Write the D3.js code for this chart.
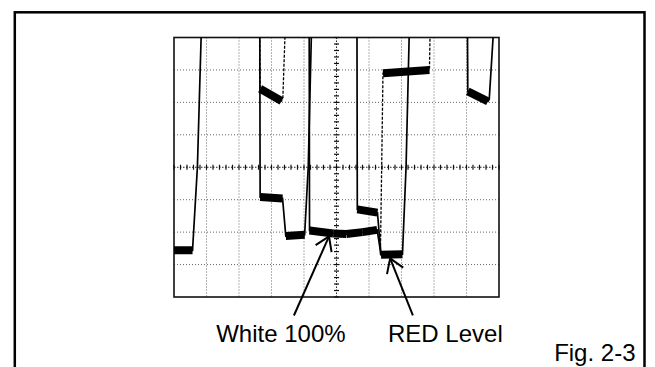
<!DOCTYPE html>
<html>
<head>
<meta charset="utf-8">
<script src="https://cdn.jsdelivr.net/npm/d3@7/dist/d3.min.js"></script>
<style>
  html, body { margin: 0; padding: 0; background: #fff; }
  svg { display: block; }
</style>
</head>
<body>
<svg id="chart" width="655" height="367"></svg>
<script>
// graticule: 10 x 8 divisions, y measured from the centre line
const xDivs = [0, 1, 2, 3, 4, 5, 6, 7, 8, 9, 10];
const yDivs = [-4, -3, -2, -1, 0, 1, 2, 3, 4];

// traces, [x div, y div]
const traceA = [[0, -2.56], [0.57, -2.56], [0.72, 0], [0.84, 4.2]];
const traceB = [[2.64, 4.2], [2.65, -0.92], [3.34, -0.96], [3.44, -2.12], [4.02, -2.08], [4.13, 0], [4.23, 4.2]];
const traceBUpper = [[2.64, 4.2], [2.65, 2.42], [3.31, 2.04], [3.35, 2.16], [3.42, 4.2]];
const traceC = [[4.16, 4.2], [4.17, -1.95], [4.9, -2.04], [5.3, -2.06], [5.8, -2.0], [6.25, -1.93], [6.37, -2.7], [7.03, -2.68], [7.14, 0], [7.24, 4.2]];
const traceD = [[5.63, 4.2], [5.64, -1.3], [6.26, -1.4], [6.37, -2.7]];
const traceE = [[6.35, -2.7], [6.39, 0], [6.43, 2.9], [7.86, 3.0], [7.88, 4.2]];
const traceF = [[9.03, 4.2], [9.04, 2.34], [9.66, 2.03], [9.7, 2.1], [9.83, 4.2]];

// annotations
const arrowLabels = ['White 100%', 'RED Level'];
const arrowTips = [[4.77, -2.13], [6.65, -2.81]];
const arrowTails = [[3.69, -4.57], [7.35, -4.57]];
const labelX = [3.29, 8.35];
const labelY = -5.39;
const figLabel = 'Fig. 2-3';

const svg = d3.select('#chart');
const font = '"Liberation Sans", Arial, sans-serif';

// outer box
svg.append('rect')
  .attr('x', 14.8).attr('y', 12.3)
  .attr('width', 629.7).attr('height', 370)
  .attr('fill', 'none')
  .attr('stroke', '#000')
  .attr('stroke-width', 2.5);

const x = d3.scaleLinear().domain([0, 10]).range([174, 499]);
const y = d3.scaleLinear().domain([-4, 4]).range([297, 37.5]);

const g = svg.append('g');

// dotted grid
g.selectAll('line.vgrid')
  .data(xDivs.filter((d) => d !== 0 && d !== 10 && d !== 5))
  .enter().append('line')
  .attr('x1', (d) => x(d)).attr('x2', (d) => x(d))
  .attr('y1', y(4)).attr('y2', y(-4))
  .attr('stroke', '#666')
  .attr('stroke-dasharray', '1,2');

g.selectAll('line.hgrid')
  .data(yDivs.filter((d) => d !== 4 && d !== -4 && d !== 0))
  .enter().append('line')
  .attr('x1', x(0)).attr('x2', x(10))
  .attr('y1', (d) => y(d)).attr('y2', (d) => y(d))
  .attr('stroke', '#666')
  .attr('stroke-dasharray', '1,2');

// centre lines with minor ticks every 1/5 div
g.append('line')
  .attr('x1', x(5)).attr('x2', x(5)).attr('y1', y(4)).attr('y2', y(-4))
  .attr('stroke', '#222').attr('stroke-dasharray', '1.5,1.5');
g.append('line')
  .attr('x1', x(0)).attr('x2', x(10)).attr('y1', y(0)).attr('y2', y(0))
  .attr('stroke', '#222').attr('stroke-dasharray', '1.5,1.5');

const minorX = d3.range(0, 10.001, 0.2);
const minorY = d3.range(-4, 4.001, 0.2);
g.selectAll('line.xtick')
  .data(minorX)
  .enter().append('line')
  .attr('x1', (d) => x(d)).attr('x2', (d) => x(d))
  .attr('y1', y(0) - 2.5).attr('y2', y(0) + 2.5)
  .attr('stroke', '#111').attr('stroke-width', 1.2);
g.selectAll('line.ytick')
  .data(minorY)
  .enter().append('line')
  .attr('x1', x(5) - 2.5).attr('x2', x(5) + 2.5)
  .attr('y1', (d) => y(d)).attr('y2', (d) => y(d))
  .attr('stroke', '#111').attr('stroke-width', 1.2);

// screen frame
g.append('rect')
  .attr('x', x(0)).attr('y', y(4))
  .attr('width', x(10) - x(0)).attr('height', y(-4) - y(4))
  .attr('fill', 'none')
  .attr('stroke', '#111')
  .attr('stroke-width', 1.6);

svg.append('clipPath').attr('id', 'screen')
  .append('rect')
  .attr('x', x(0)).attr('y', y(4))
  .attr('width', x(10) - x(0)).attr('height', y(-4) - y(4));

const traces = g.append('g').attr('clip-path', 'url(#screen)');
const line = d3.line().x((d) => x(d[0])).y((d) => y(d[1]));

const allTraces = [
  { pts: traceA, dashed: false },
  { pts: traceB, dashed: false },
  { pts: traceBUpper, dashed: true },
  { pts: traceC, dashed: false },
  { pts: traceD, dashed: false },
  { pts: traceE, dashed: true },
  { pts: traceF, dashed: false },
];

allTraces.forEach((t) => {
  traces.append('path')
    .datum(t.pts)
    .attr('d', line)
    .attr('fill', 'none')
    .attr('stroke', '#000')
    .attr('stroke-width', t.dashed ? 1.3 : 1.7)
    .attr('stroke-dasharray', t.dashed ? '3,1.5' : null);

  // flat parts are thick noisy bands on the scope
  const flats = d3.pairs(t.pts).filter(([a, b]) => Math.abs((b[1] - a[1]) / (b[0] - a[0])) < 0.8);
  traces.selectAll(null)
    .data(flats)
    .enter().append('path')
    .attr('d', line)
    .attr('fill', 'none')
    .attr('stroke', '#000')
    .attr('stroke-width', 8);
});

// arrows
const barbLen = 16;
const barbAngle = (33 * Math.PI) / 180;
arrowTips.forEach((tip, i) => {
  const tail = arrowTails[i];
  const tx = x(tip[0]); const ty = y(tip[1]);
  const ax = x(tail[0]); const ay = y(tail[1]);
  g.append('line')
    .attr('x1', ax).attr('y1', ay).attr('x2', tx).attr('y2', ty)
    .attr('stroke', '#000').attr('stroke-width', 2);
  const ang = Math.atan2(ay - ty, ax - tx);
  [-barbAngle, barbAngle].forEach((da) => {
    g.append('line')
      .attr('x1', tx).attr('y1', ty)
      .attr('x2', tx + barbLen * Math.cos(ang + da))
      .attr('y2', ty + barbLen * Math.sin(ang + da))
      .attr('stroke', '#000').attr('stroke-width', 2);
  });
  g.append('text')
    .attr('x', x(labelX[i]))
    .attr('y', y(labelY))
    .attr('text-anchor', 'middle')
    .attr('font-family', font)
    .attr('font-size', 24)
    .attr('fill', '#000')
    .text(arrowLabels[i]);
});

svg.append('text')
  .attr('x', 635.5).attr('y', 360.5)
  .attr('text-anchor', 'end')
  .attr('font-family', font)
  .attr('font-size', 24)
  .attr('fill', '#000')
  .text(figLabel);
</script>
</body>
</html>
